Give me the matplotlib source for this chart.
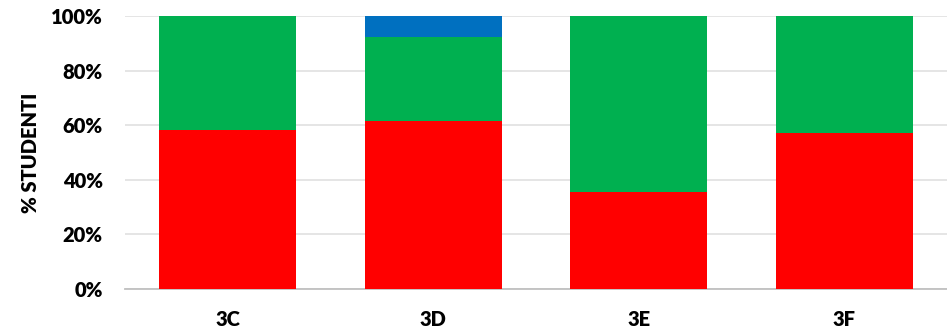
import matplotlib.pyplot as plt
from matplotlib.ticker import PercentFormatter

# classi e percentuali di studenti
classi = ["3C", "3D", "3E", "3F"]
rosso = [58.3, 61.5, 35.7, 57.1]
verde = [41.7, 30.8, 64.3, 42.9]
blu = [0, 7.7, 0, 0]

plt.rcParams['font.family'] = ['Lato', 'DejaVu Sans']
plt.rcParams['font.weight'] = 'heavy'

fig = plt.figure(figsize=(9.47, 3.34), dpi=100)
ax = fig.add_axes([125/947, 45/334, 822/947, 273/334])

x = range(len(classi))
w = 0.667
ax.bar(x, rosso, w, color="#ff0000", zorder=3)
ax.bar(x, verde, w, bottom=rosso, color="#00b050", zorder=3)
base = [r + v for r, v in zip(rosso, verde)]
ax.bar(x, blu, w, bottom=base, color="#0070c0", zorder=3)

ax.set_xlim(-0.5, 3.5)
ax.set_ylim(0, 100)
ax.set_yticks([0, 20, 40, 60, 80, 100])
ax.yaxis.set_major_formatter(PercentFormatter(decimals=0))
ax.set_xticks(list(x))
ax.set_xticklabels(classi)
ax.grid(axis="y", color="#e0e0e0", linewidth=1.2, zorder=0)
for s in ["top", "right", "left"]:
    ax.spines[s].set_visible(False)
ax.spines["bottom"].set_color("#c0c0c0")
ax.spines["bottom"].set_linewidth(1.3)
ax.tick_params(length=0, labelsize=14.5)
ax.tick_params(axis="y", pad=16)
ax.tick_params(axis="x", pad=15)
ax.set_ylabel("% STUDENTI", fontsize=14.5, fontweight="heavy", labelpad=8)

plt.savefig("out.png")
